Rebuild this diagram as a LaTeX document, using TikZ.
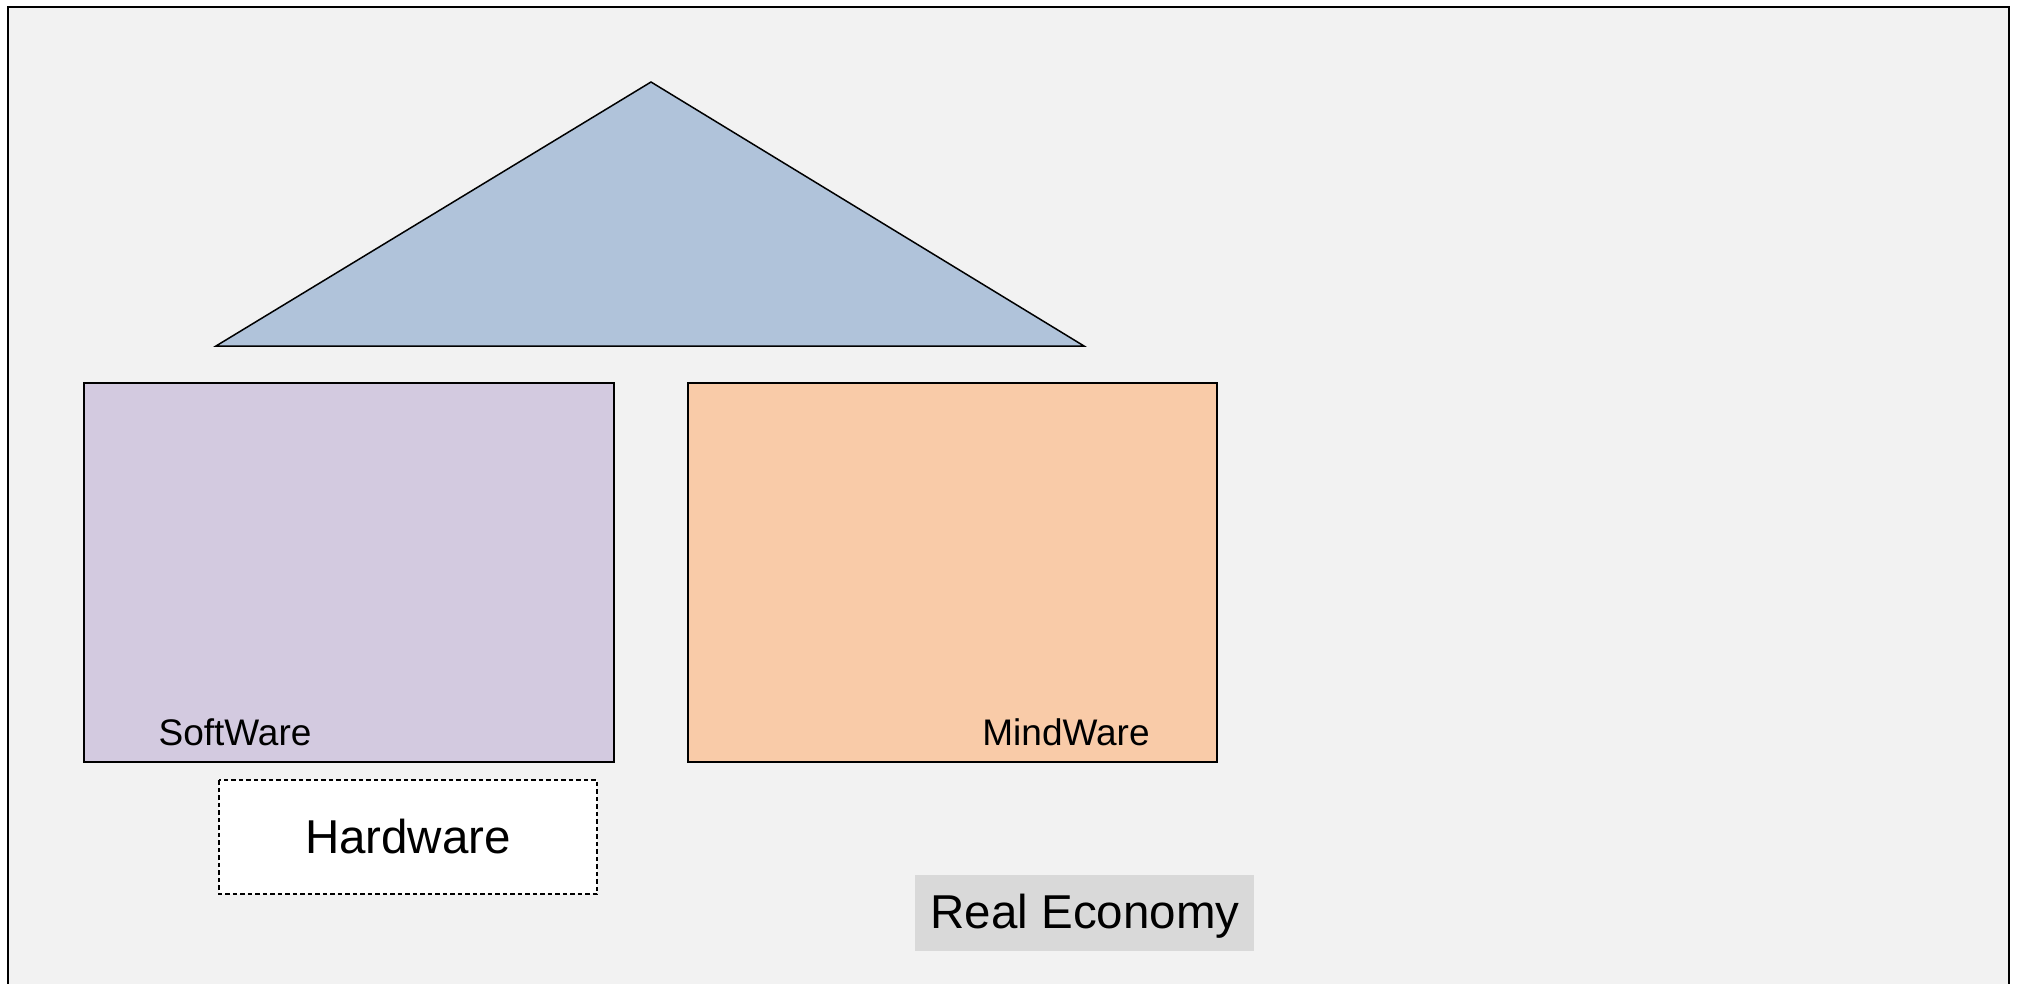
\documentclass[tikz,border=0pt]{standalone}
\usepackage{fontspec}
\setmainfont{Liberation Sans}
\begin{document}
\begin{tikzpicture}[x=1pt,y=-1pt,
  box/.style={draw=black,line width=1.5pt,anchor=north west,inner sep=0pt,outer sep=0pt},
  lbl/.style={anchor=base,inner sep=0pt,font=\fontsize{37}{44}\selectfont},
  biglbl/.style={anchor=base,inner sep=0pt,font=\fontsize{47.5}{57}\selectfont}]
\definecolor{bg}{HTML}{F2F2F2}
\definecolor{roof}{HTML}{B0C3DA}
\definecolor{soft}{HTML}{D3CAE0}
\definecolor{mind}{HTML}{F9CBA8}
\definecolor{econ}{HTML}{D9D9D9}
\useasboundingbox (0,0) rectangle (2017,984);
\clip (0,0) rectangle (2017,984);
\fill[white] (0,0) rectangle (2017,984);
\draw[line width=2.2pt,fill=bg] (8,7) rectangle (2009,1000);
\coordinate (tl) at (216,346);
\coordinate (ta) at (651,82);
\coordinate (tr) at (1084,346);
\draw[line width=1.5pt,fill=roof,line join=miter] (tl) -- (ta) -- (tr) -- cycle;
\node[box,fill=soft,minimum width=530pt,minimum height=379pt] (sw) at (84,383) {};
\node[box,fill=mind,minimum width=529pt,minimum height=379pt] (mw) at (688,383) {};
\node[box,draw=none,fill=white,minimum width=378pt,minimum height=114pt] (hw) at (219,780) {};
\draw[line width=2.6pt,dash pattern=on 4.5pt off 3pt] (hw.north west) rectangle (hw.south east);
\node[box,draw=none,fill=econ,minimum width=339pt,minimum height=76pt] (re) at (915,875) {};
\node[lbl] (swt) at (235,745) {SoftWare};
\node[lbl] (mwt) at (1066,745) {MindWare};
\node[biglbl] (hwt) at (408,853) {Hardware};
\node[biglbl] (ret) at (1085,928) {Real Economy};
\end{tikzpicture}
\end{document}
